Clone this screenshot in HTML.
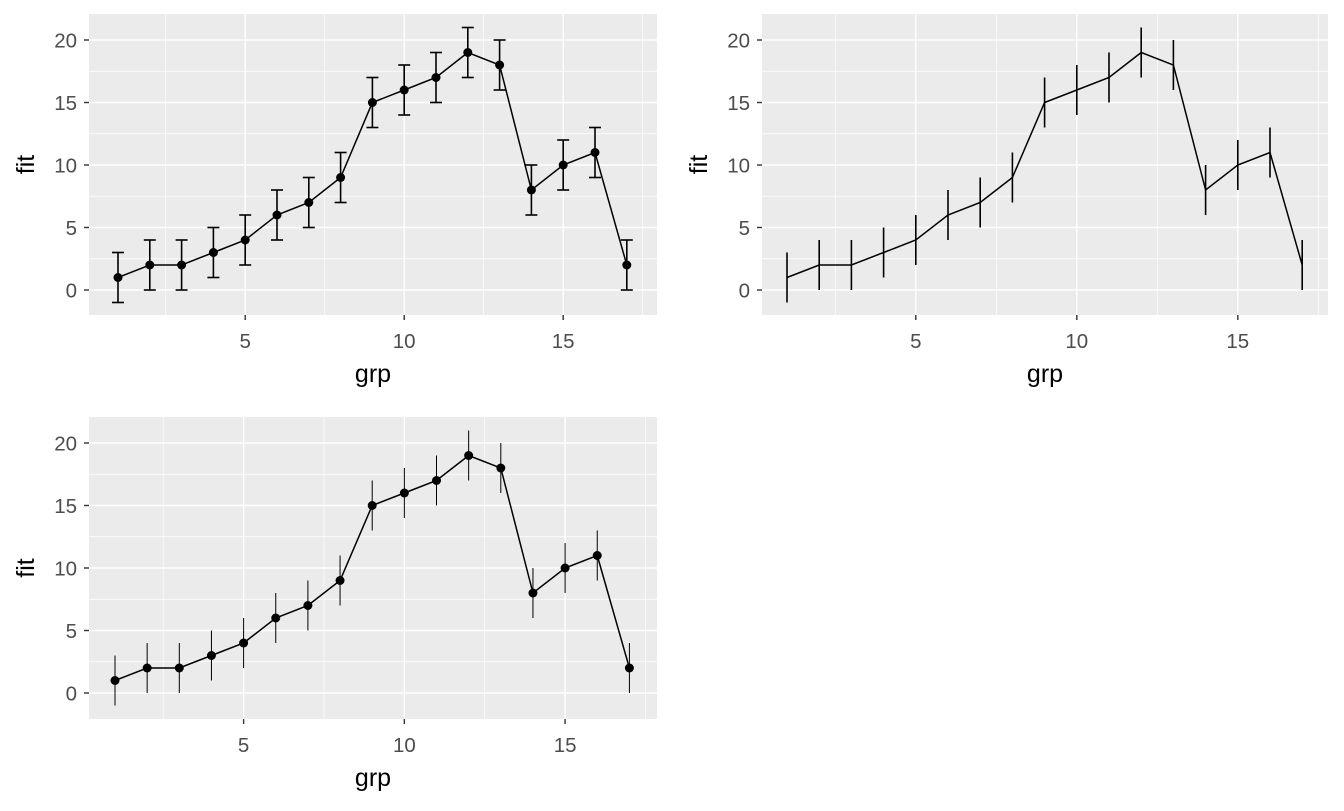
<!DOCTYPE html>
<html><head><meta charset="utf-8"><style>
body{margin:0;background:#fff;}
svg text{font-family:"Liberation Sans",Arial,sans-serif;}
</style></head><body>
<svg id="c" width="1344" height="806" xmlns="http://www.w3.org/2000/svg"></svg>
<script>
const grp=[1,2,3,4,5,6,7,8,9,10,11,12,13,14,15,16,17];
const fit=[1,2,2,3,4,6,7,9,15,16,17,19,18,8,10,11,2];
const lower=[-1,0,0,1,2,4,5,7,13,14,15,17,16,6,8,9,0];
const upper=[3,4,4,5,6,8,9,11,17,18,19,21,20,10,12,13,4];
const xTicks=[5,10,15];
const yTicks=[0,5,10,15,20];
const NS="http://www.w3.org/2000/svg";
const svg=document.getElementById('c');
function mk(tag,attrs,parent){const e=document.createElementNS(NS,tag);for(const k in attrs)e.setAttribute(k,attrs[k]);(parent||svg).appendChild(e);return e;}
const panels=[
 {name:'panel-1',L:89,R:657,T:14,B:315,x1:118,xr:31.8,y0:290,cap:6,pts:true,ew:1.6},
 {name:'panel-2',L:762,R:1328,T:14,B:315,x1:787,xr:32.2,y0:290,cap:0,pts:false,ew:1.6},
 {name:'panel-3',L:89,R:657,T:417,B:719,x1:115,xr:32.15,y0:693,cap:0,pts:true,ew:1}
];
panels.forEach(p=>{
 const g=mk('g',{});
 
 
 const X=v=>p.x1+(v-1)*p.xr, Y=v=>p.y0-v*12.5;
 const bg=mk('rect',{x:p.L,y:p.T,width:p.R-p.L,height:p.B-p.T,fill:'#ebebeb'},g);
 
 
 for(let v=2.5;v<=17.5;v+=5){const x=X(v);if(x>p.L&&x<p.R)mk('line',{x1:x,x2:x,y1:p.T,y2:p.B,stroke:'#fff','stroke-width':0.7},g);}
 for(let v=-2.5;v<=22.5;v+=5){const y=Y(v);if(y>p.T&&y<p.B)mk('line',{x1:p.L,x2:p.R,y1:y,y2:y,stroke:'#fff','stroke-width':0.7},g);}
 xTicks.forEach(v=>{const x=X(v);mk('line',{x1:x,x2:x,y1:p.T,y2:p.B,stroke:'#fff','stroke-width':1.4},g);
  mk('line',{x1:x,x2:x,y1:p.B,y2:p.B+5,stroke:'#333','stroke-width':1.4},g);
  const t=mk('text',{x:x,y:p.B+33,'text-anchor':'middle','font-size':20.5,fill:'#4d4d4d'},g);t.textContent=v;
  });
 yTicks.forEach(v=>{const y=Y(v);mk('line',{x1:p.L,x2:p.R,y1:y,y2:y,stroke:'#fff','stroke-width':1.4},g);
  mk('line',{x1:p.L-5,x2:p.L,y1:y,y2:y,stroke:'#333','stroke-width':1.4},g);
  const t=mk('text',{x:p.L-12,y:y+7.5,'text-anchor':'end','font-size':20.5,fill:'#4d4d4d'},g);t.textContent=v;
  });
 const xt=mk('text',{x:(p.L+p.R)/2,y:p.B+67,'text-anchor':'middle','font-size':25,fill:'#000'},g);xt.textContent='grp';
 
 const yc=(p.T+p.B)/2, yx=p.L-55;
 const yt=mk('text',{x:yx,y:yc,'text-anchor':'middle','font-size':25,fill:'#000',transform:`rotate(-90 ${yx} ${yc})`},g);yt.textContent='fit';
 
 grp.forEach((v,i)=>{const x=X(v);
  const e=mk('line',{x1:x,x2:x,y1:Y(lower[i]),y2:Y(upper[i]),stroke:'#000','stroke-width':p.ew},g);
  
  if(p.cap){mk('line',{x1:x-p.cap,x2:x+p.cap,y1:Y(lower[i]),y2:Y(lower[i]),stroke:'#000','stroke-width':1.6},g);
   mk('line',{x1:x-p.cap,x2:x+p.cap,y1:Y(upper[i]),y2:Y(upper[i]),stroke:'#000','stroke-width':1.6},g);}
 });
 const ln=mk('polyline',{points:grp.map((v,i)=>X(v)+','+Y(fit[i])).join(' '),fill:'none',stroke:'#000','stroke-width':1.5},g);
 
 if(p.pts)grp.forEach((v,i)=>{const c=mk('circle',{cx:X(v),cy:Y(fit[i]),r:4.5,fill:'#000'},g);
  });
});
</script>
</body></html>
